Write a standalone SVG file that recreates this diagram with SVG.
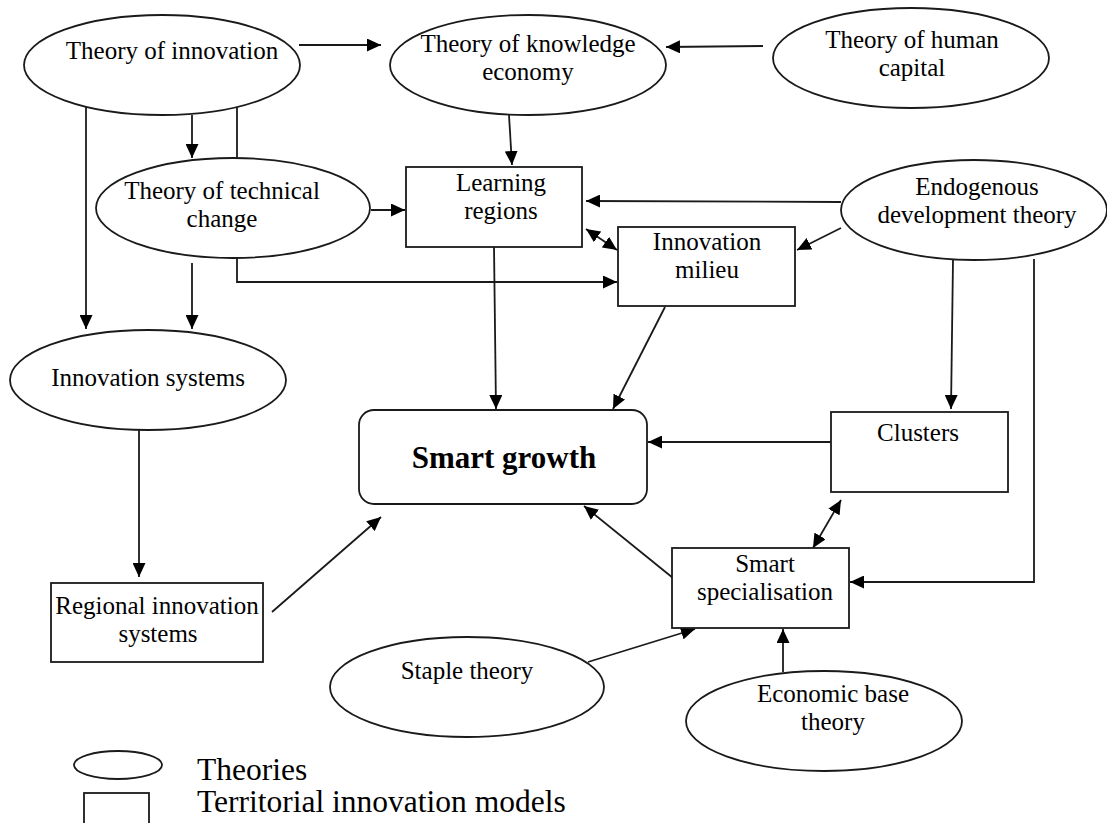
<svg xmlns="http://www.w3.org/2000/svg" width="1107" height="823" viewBox="0 0 1107 823">
<style>
.n{fill:#fff;stroke:#1a1a1a;stroke-width:1.8}
.t{font-family:"Liberation Serif","Times New Roman",serif;font-size:25px;fill:#000;text-anchor:middle}
.b{font-weight:bold;font-size:31px}
.lg{font-family:"Liberation Serif","Times New Roman",serif;font-size:31.5px;fill:#000}
.c{fill:none;stroke:#1a1a1a;stroke-width:1.8}
.a{marker-end:url(#arr)}
.d{marker-start:url(#arr);marker-end:url(#arr)}
</style>
<defs>
<marker id="arr" viewBox="0 0 14 13" refX="14" refY="6.5" markerWidth="14" markerHeight="13" markerUnits="userSpaceOnUse" orient="auto-start-reverse">
<path d="M0,0 L14,6.5 L0,13 z" fill="#000"/>
</marker>
</defs>
<rect width="1107" height="823" fill="#fff"/>
<g id="connectors">
<line class="c a" x1="299" y1="45" x2="381" y2="45"/>
<line class="c a" x1="763" y1="46" x2="666" y2="47"/>
<line class="c a" x1="192" y1="115" x2="192" y2="158"/>
<line class="c" x1="237" y1="107" x2="237" y2="158"/>
<path class="c a" d="M237,258 V282 H617"/>
<line class="c a" x1="86" y1="107" x2="86" y2="329"/>
<line class="c a" x1="192" y1="263" x2="192" y2="329"/>
<line class="c a" x1="371" y1="210" x2="405" y2="210"/>
<line class="c a" x1="509" y1="115" x2="512" y2="165"/>
<line class="c a" x1="841" y1="202" x2="586" y2="201"/>
<line class="c d" x1="586" y1="229" x2="617" y2="250"/>
<line class="c a" x1="841" y1="228" x2="797" y2="250"/>
<line class="c a" x1="494" y1="247" x2="496" y2="409"/>
<line class="c a" x1="665" y1="307" x2="613" y2="409"/>
<line class="c a" x1="831" y1="442" x2="648" y2="442"/>
<line class="c a" x1="953" y1="260" x2="951" y2="409"/>
<path class="c a" d="M1034,259 V582 H850"/>
<line class="c d" x1="841" y1="500" x2="813" y2="548"/>
<line class="c a" x1="673" y1="578" x2="584" y2="506"/>
<line class="c a" x1="272" y1="612" x2="381" y2="517"/>
<line class="c a" x1="139" y1="430" x2="139" y2="577"/>
<line class="c a" x1="588" y1="662" x2="695" y2="629"/>
<line class="c a" x1="783" y1="672" x2="783" y2="629"/>
</g>
<g id="theory-of-innovation">
<ellipse class="n" cx="162" cy="65" rx="138" ry="50"/>
<text class="t" x="172" y="59">Theory of innovation</text>
</g>
<g id="theory-of-knowledge-economy">
<ellipse class="n" cx="528" cy="65" rx="138" ry="50"/>
<text class="t" x="528" y="52">Theory of knowledge</text>
<text class="t" x="528" y="80">economy</text>
</g>
<g id="theory-of-human-capital">
<ellipse class="n" cx="911" cy="58" rx="138" ry="50"/>
<text class="t" x="912" y="48">Theory of human</text>
<text class="t" x="912" y="76">capital</text>
</g>
<g id="theory-of-technical-change">
<ellipse class="n" cx="233" cy="208" rx="137" ry="50"/>
<text class="t" x="222" y="199">Theory of technical</text>
<text class="t" x="222" y="227">change</text>
</g>
<g id="learning-regions">
<rect class="n" x="406" y="167" width="176" height="80"/>
<text class="t" x="501" y="191">Learning</text>
<text class="t" x="501" y="219">regions</text>
</g>
<g id="innovation-milieu">
<rect class="n" x="618" y="227" width="177" height="79"/>
<text class="t" x="707" y="250">Innovation</text>
<text class="t" x="707" y="278">milieu</text>
</g>
<g id="endogenous-development-theory">
<ellipse class="n" cx="974" cy="210" rx="133" ry="50"/>
<text class="t" x="977" y="195">Endogenous</text>
<text class="t" x="977" y="223">development theory</text>
</g>
<g id="innovation-systems">
<ellipse class="n" cx="148" cy="380" rx="138" ry="50"/>
<text class="t" x="148" y="386">Innovation systems</text>
</g>
<g id="smart-growth">
<rect class="n" x="359" y="410" width="288" height="94" rx="15" ry="15"/>
<text class="t b" x="504" y="468">Smart growth</text>
</g>
<g id="clusters">
<rect class="n" x="831" y="412" width="177" height="80"/>
<text class="t" x="918" y="441">Clusters</text>
</g>
<g id="regional-innovation-systems">
<rect class="n" x="51" y="583" width="212" height="79"/>
<text class="t" x="157" y="614">Regional innovation</text>
<text class="t" x="158" y="642">systems</text>
</g>
<g id="smart-specialisation">
<rect class="n" x="672" y="548" width="177" height="80"/>
<text class="t" x="765" y="572">Smart</text>
<text class="t" x="765" y="600">specialisation</text>
</g>
<g id="staple-theory">
<ellipse class="n" cx="467" cy="687" rx="137" ry="50"/>
<text class="t" x="467" y="679">Staple theory</text>
</g>
<g id="economic-base-theory">
<ellipse class="n" cx="824" cy="721" rx="138" ry="50"/>
<text class="t" x="833" y="702">Economic base</text>
<text class="t" x="833" y="730">theory</text>
</g>
<g id="legend">
<ellipse class="n" cx="118" cy="765" rx="44" ry="14"/>
<text class="lg" x="197" y="780">Theories</text>
<rect class="n" x="84" y="793" width="65" height="40"/>
<text class="lg" x="197" y="812">Territorial innovation models</text>
</g>
</svg>
